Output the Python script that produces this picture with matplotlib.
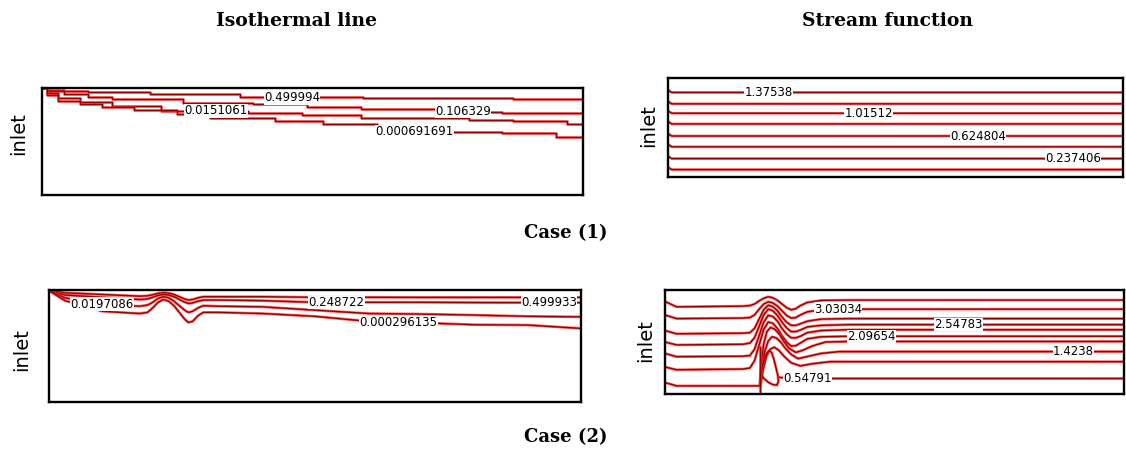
import matplotlib
matplotlib.use("Agg")
import matplotlib.pyplot as plt
from matplotlib import font_manager

# narrow font for the contour labels if there is one
names = {f.name for f in font_manager.fontManager.ttflist}
label_font = "Liberation Sans Narrow" if "Liberation Sans Narrow" in names else "DejaVu Sans"

# ---- Case (1), isothermal lines (x along channel, y from bottom, 0..1)
iso1_x = [
    [0, .01, .04, .085, .2, .366, .593, .87, 1.0],
    [0, .01, .04, .085, .13, .26, .39, .49, .59, .73, .85, 1.0],
    [0, .01, .03, .07, .13, .22, .38, .48, .59, .79, .87, .97, 1.0],
    [0, .01, .03, .07, .11, .17, .25, .31, .43, .52, .62, .76, .85, .95, 1.0],
]
iso1_y = [
    [1.0, .985, .97, .963, .94, .92, .908, .893, .885],
    [1.0, .97, .94, .92, .90, .86, .85, .82, .80, .78, .77, .765],
    [1.0, .95, .91, .87, .835, .786, .77, .75, .72, .70, .69, .667, .667],
    [1.0, .93, .88, .85, .82, .79, .76, .72, .69, .66, .59, .59, .575, .545, .545],
]
iso1_labels = ["0.499994", "0.0151061", "0.106329", "0.000691691"]
iso1_lab_xy = [(.462, .908), (.321, .786), (.778, .78), (.689, .59)]

# ---- Case (1), stream function
str1_levels = [.854, .739, .644, .536, .414, .305, .186, .075]
str1_labels = ["1.37538", "1.01512", "0.624804", "0.237406"]
str1_lab_xy = [(.221, .854), (.441, .644), (.681, .414), (.89, .186)]

# ---- Case (2), isothermal lines
iso2_x = [0, .03, .1, .17, .185, .195, .205, .215, .225, .235, .245, .255, .262,
          .27, .28, .29, .32, .4, .5, .6, .7, .8, .9, 1.0]
iso2_y = [
    [.994, .975, .96, .945, .948, .958, .97, .976, .972, .96, .94, .92, .91,
     .915, .93, .94, .94, .94, .935, .935, .934, .934, .934, .934],
    [.994, .955, .935, .915, .92, .935, .952, .96, .955, .94, .915, .892, .88,
     .885, .90, .91, .91, .905, .89, .89, .89, .888, .887, .887],
    [.994, .93, .87, .855, .865, .89, .925, .94, .93, .90, .86, .82, .80,
     .81, .84, .86, .855, .85, .82, .79, .785, .776, .765, .76],
    [.994, .905, .81, .79, .80, .84, .89, .915, .90, .86, .80, .74, .71,
     .72, .77, .80, .80, .79, .765, .72, .707, .69, .687, .657],
]
iso2_labels = ["0.0197086", "0.248722", "0.499933", "0.000296135"]
iso2_lab_xy = [(.10, .875), (.54, .889), (.94, .887), (.657, .707)]

# ---- Case (2), stream function
str2_x = [0, .025, .17, .185, .195, .205, .215, .225, .235, .245, .255, .265,
          .275, .285, .295, .31, .34, .40, 1.0]
str2_y = [
    [.89, .838, .845, .85, .865, .895, .92, .935, .925, .90, .865, .83,
     .81, .82, .85, .88, .90, .903, .903],
    [.76, .725, .73, .735, .76, .815, .865, .887, .875, .845, .80, .755,
     .73, .735, .76, .79, .81, .816, .816],
    [.61, .579, .585, .59, .63, .72, .81, .854, .84, .80, .74, .69,
     .66, .66, .675, .70, .72, .725, .725],
    [.50, .472, .478, .49, .54, .65, .76, .816, .80, .755, .69, .635,
     .60, .60, .615, .645, .66, .667, .667],
    [.39, .359, .363, .37, .43, .56, .69, .757, .745, .70, .63, .575,
     .54, .54, .555, .59, .61, .618, .618],
    [.26, .233, .24, .25, .32, .47, .62, .692, .68, .63, .56, .50,
     .46, .465, .49, .53, .55, .555, .555],
]
str2_arch_x = [
    [.206, .21, .215, .222, .23, .24, .25, .26, .27, .285, .30, .32, .35, .40, 1.0],
    [.207, .212, .218, .225, .233, .242, .252, .262, .275, .29, .31, .34, .38, 1.0],
    [.208, .214, .221, .229, .238, .248, .26, .275, .295, .32, .36, 1.0],
]
str2_arch_y = [
    [.08, .30, .48, .60, .64, .62, .57, .50, .44, .40, .42, .46, .50, .505, .505],
    [.08, .28, .42, .51, .55, .54, .50, .44, .38, .34, .36, .39, .408, .408],
    [.08, .24, .36, .43, .45, .42, .36, .30, .27, .29, .311, .311],
]
str2_bottom_x = [0, .025, .206]
str2_bottom_y = [.11, .078, .078]
str2_vortex_x = [.209, .212, .218, .223, .227, .232, .237, .242, .246, .247, .244,
                 .235, .226, .215, .209]
str2_vortex_y = [.191, .27, .353, .40, .417, .40, .337, .25, .175, .12, .085,
                 .09, .11, .15, .191]
str2_stem_x = [.206, .206]
str2_stem_y = [0, .45]
str2_low_x = [.25, .27, 1.0]
str2_low_y = [.16, .149, .149]
str2_labels = ["3.03034", "2.09654", "2.54783", "1.4238", "0.54791"]
str2_lab_xy = [(.377, .816), (.45, .555), (.64, .667), (.89, .408), (.31, .149)]


def red_line(ax, x, y, steps=False):
    ds = "steps-post" if steps else "default"
    ax.plot(x, y, color="#ff3030", lw=2.0, alpha=0.7, drawstyle=ds)
    ax.plot(x, y, color="#9a0000", lw=1.0, drawstyle=ds)


def put_labels(ax, labels, xy):
    for t, (lx, ly) in zip(labels, xy):
        ax.text(lx, ly, t, fontsize=8.5, family=label_font, ha="center", va="center",
                zorder=5, bbox=dict(facecolor="white", edgecolor="none", pad=0.15))


def frame(ax):
    ax.set_xlim(0, 1)
    ax.set_ylim(0, 1)
    ax.set_xticks([])
    ax.set_yticks([])
    for s in ax.spines.values():
        s.set_linewidth(1.7)


fig = plt.figure(figsize=(11.26, 4.5), dpi=100)

ax1 = fig.add_axes([42 / 1126, 1 - 195 / 450, 541 / 1126, 107 / 450])
ax2 = fig.add_axes([668 / 1126, 1 - 177 / 450, 455 / 1126, 99 / 450])
ax3 = fig.add_axes([49 / 1126, 1 - 402 / 450, 532 / 1126, 112 / 450])
ax4 = fig.add_axes([665 / 1126, 1 - 394 / 450, 459 / 1126, 104 / 450])

for xs, ys in zip(iso1_x, iso1_y):
    red_line(ax1, xs, ys, steps=True)
put_labels(ax1, iso1_labels, iso1_lab_xy)

for lv in str1_levels:
    red_line(ax2, [0, .008, 1.0], [lv + .025, lv, lv])
put_labels(ax2, str1_labels, str1_lab_xy)

for ys in iso2_y:
    red_line(ax3, iso2_x, ys)
put_labels(ax3, iso2_labels, iso2_lab_xy)

for ys in str2_y:
    red_line(ax4, str2_x, ys)
for xs, ys in zip(str2_arch_x, str2_arch_y):
    red_line(ax4, xs, ys)
red_line(ax4, str2_bottom_x, str2_bottom_y)
red_line(ax4, str2_vortex_x, str2_vortex_y)
red_line(ax4, str2_stem_x, str2_stem_y)
red_line(ax4, str2_low_x, str2_low_y)
put_labels(ax4, str2_labels, str2_lab_xy)

for ax in (ax1, ax2, ax3, ax4):
    frame(ax)

# inlet labels
for x, y in [(19, 134), (649, 126), (22, 350), (646, 341)]:
    fig.text(x / 1126, 1 - y / 450, "inlet", rotation=90, fontsize=14,
             family="DejaVu Sans", ha="center", va="center")

title_kw = dict(family="DejaVu Serif", weight="bold", ha="center", va="center")
fig.text(297 / 1126, 1 - 21 / 450, "Isothermal line", fontsize=13.5, **title_kw)
fig.text(887 / 1126, 1 - 21 / 450, "Stream function", fontsize=13.5, **title_kw)
fig.text(566 / 1126, 1 - 233 / 450, "Case (1)", fontsize=13, **title_kw)
fig.text(566 / 1126, 1 - 437 / 450, "Case (2)", fontsize=13, **title_kw)

fig.savefig("out.png", dpi=100)
